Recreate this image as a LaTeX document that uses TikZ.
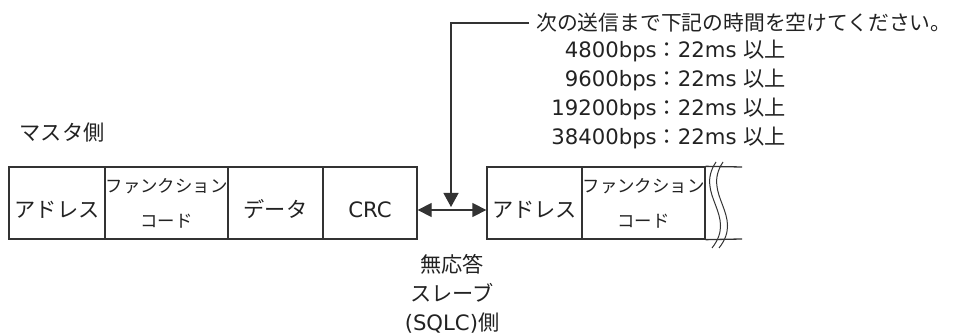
\documentclass[tikz,border=0pt]{standalone}
\usepackage{fontspec}
\setmainfont{DejaVu Sans}
\newfontfamily\jp{Noto Sans CJK JP}
\usetikzlibrary{arrows.meta}
\newcommand\fbig{\fontsize{21.2}{24}\selectfont}
\newcommand\fnote{\fontsize{20.8}{24}\selectfont}
\newcommand\fsmall{\fontsize{17.4}{35}\selectfont}
\definecolor{linec}{HTML}{333333}
\definecolor{textc}{HTML}{222222}
\tikzset{
  field/.style={draw=linec, line width=1.3pt, minimum height=72pt, inner sep=0pt,
    text=textc, font=\fbig\jp, text height=30pt, text depth=1.4pt},
  fieldtwo/.style={draw=linec, line width=1.3pt, minimum height=72pt, inner sep=0pt,
    text=textc, font=\fsmall\jp, align=center},
  txt/.style={inner sep=0pt, text=textc, font=\fbig, text height=17pt, text depth=2.2pt},
  txtblock/.style={inner sep=0pt, text=textc, font=\fontsize{21.2}{29.3}\selectfont, align=center},
  frameline/.style={draw=linec, line width=1.3pt},
  wave/.style={draw=linec, line width=1pt},
  arr/.style={draw=linec, line width=1.3pt},
  tipA/.tip={Triangle[length=14pt,width=14pt]},
}
\begin{document}
\begin{tikzpicture}[x=1pt,y=-1pt]
\useasboundingbox (0,0) rectangle (955,336);
% master frame
\node[field, minimum width=96pt] (a1) at (57,203) {アドレス};
\node[fieldtwo, minimum width=123pt] (a2) at (166.5,203) {ファンクション\\コード};
\node[field, minimum width=95pt] (a3) at (275.5,203) {データ};
\node[field, minimum width=94pt, font=\fbig] (a4) at (370,203) {CRC};
% slave frame
\node[field, minimum width=95pt] (b1) at (534.5,203) {アドレス};
\node[fieldtwo, minimum width=123pt] (b2) at (643.5,203) {ファンクション\\コード};
\coordinate (ne) at (742,167);
\coordinate (se) at (742,239);
\draw[frameline] (b2.north east) -- (ne);
\draw[frameline] (b2.south east) -- (se);
\draw[wave] (716,162) .. controls (694,195) and (738,215) .. (712,248);
\draw[wave] (723,162) .. controls (701,195) and (745,215) .. (719,248);
% gap arrow
\draw[arr, {tipA}-{tipA}] ([yshift=-7pt]a4.east) -- ([yshift=-7pt]b1.west);
% note
\node[txt, font=\fnote, anchor=west, inner xsep=7pt] (t0) at (529,23) {\jp 次の送信まで下記の時間を空けてください。};
\coordinate (tip) at (451,207);
\draw[arr, -{Triangle[length=14pt,width=15pt]}] (t0.west) -| (tip);
\node[txt, anchor=east] (r1) at (786,50) {4800bps{\jp ：}22ms {\jp 以上}};
\node[txt, anchor=east] (r2) at (786,79) {9600bps{\jp ：}22ms {\jp 以上}};
\node[txt, anchor=east] (r3) at (786,108) {19200bps{\jp ：}22ms {\jp 以上}};
\node[txt, anchor=east] (r4) at (786,137) {38400bps{\jp ：}22ms {\jp 以上}};
% labels
\node[txt] (m) at (62,133) {\jp マスタ側};
\node[txtblock] (n) at (452,294) {{\jp 無応答}\\{\jp スレーブ}\\(SQLC){\jp 側}};
\end{tikzpicture}
\end{document}
